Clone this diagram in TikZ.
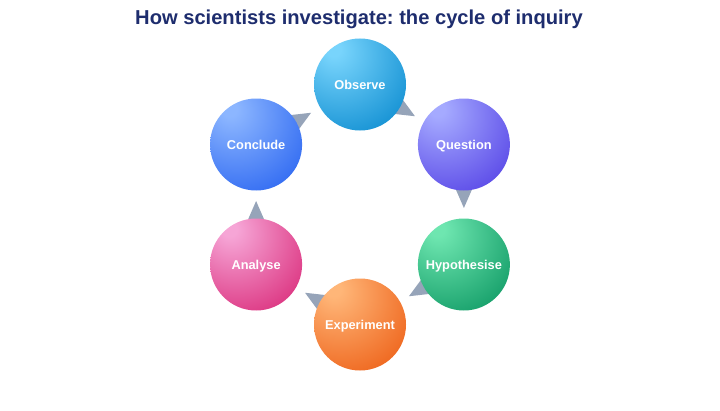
\documentclass[tikz,border=0pt]{standalone}
\usepackage{fontspec}
\setmainfont{Liberation Sans}
\usetikzlibrary{calc,backgrounds}
\frenchspacing
\definecolor{titlec}{RGB}{30,45,110}
\definecolor{wedgec}{RGB}{150,164,185}
\definecolor{obsL}{RGB}{120,212,252}\definecolor{obsD}{RGB}{5,135,205}
\definecolor{queL}{RGB}{165,170,255}\definecolor{queD}{RGB}{80,60,228}
\definecolor{hypL}{RGB}{110,230,176}\definecolor{hypD}{RGB}{8,148,95}
\definecolor{expL}{RGB}{255,182,120}\definecolor{expD}{RGB}{236,90,16}
\definecolor{anaL}{RGB}{246,165,214}\definecolor{anaD}{RGB}{216,36,116}
\definecolor{conL}{RGB}{140,182,255}\definecolor{conD}{RGB}{36,96,240}
\pgfdeclareradialshading{obsball}{\pgfpoint{-15bp}{20bp}}{color(0bp)=(obsL); color(4bp)=(obsL); color(48bp)=(obsD); color(100bp)=(obsD)}
\pgfdeclareradialshading{queball}{\pgfpoint{-15bp}{20bp}}{color(0bp)=(queL); color(4bp)=(queL); color(48bp)=(queD); color(100bp)=(queD)}
\pgfdeclareradialshading{hypball}{\pgfpoint{-15bp}{20bp}}{color(0bp)=(hypL); color(4bp)=(hypL); color(48bp)=(hypD); color(100bp)=(hypD)}
\pgfdeclareradialshading{expball}{\pgfpoint{-15bp}{20bp}}{color(0bp)=(expL); color(4bp)=(expL); color(48bp)=(expD); color(100bp)=(expD)}
\pgfdeclareradialshading{anaball}{\pgfpoint{-15bp}{20bp}}{color(0bp)=(anaL); color(4bp)=(anaL); color(48bp)=(anaD); color(100bp)=(anaD)}
\pgfdeclareradialshading{conball}{\pgfpoint{-15bp}{20bp}}{color(0bp)=(conL); color(4bp)=(conL); color(48bp)=(conD); color(100bp)=(conD)}
\tikzset{
  ballnode/.style={circle, minimum size=69pt, inner sep=0pt, text=white,
    text height=6.9pt, text depth=0pt,
    font=\bfseries\fontsize{9.6}{11}\selectfont},
  wedgefill/.style={fill=wedgec},
  titlestyle/.style={font=\bfseries\fontsize{15.1}{18}\selectfont, text=titlec}
}
\begin{document}
\begin{tikzpicture}[x=0.75pt,y=-0.75pt]
\useasboundingbox (0,0) rectangle (720,410);
\node[titlestyle] (title) at (359,19) {How scientists investigate: the cycle of inquiry};
\node[ballnode, shading=obsball] (obs) at (360,84.5) {Observe};
\node[ballnode, shading=queball] (que) at (463.9,144.5) {Question};
\node[ballnode, shading=hypball] (hyp) at (463.9,264.5) {Hypothesise};
\node[ballnode, shading=expball] (exp) at (360,324.5) {Experiment};
\node[ballnode, shading=anaball] (ana) at (256.1,264.5) {Analyse};
\node[ballnode, shading=conball] (con) at (256.1,144.5) {Conclude};
\begin{scope}[on background layer]
\fill[white] (0,0) rectangle (720,410);
\foreach \a/\b in {obs/que, que/hyp, hyp/exp, exp/ana, ana/con, con/obs}{
  \coordinate (m) at ($(\a)!0.3!(\b)$);
  \fill[wedgefill] ($(\a)!0.529!(\b)$) -- ($(m)!9pt!90:(\b)$) -- ($(m)!9pt!-90:(\b)$) -- cycle;
}
\end{scope}
\end{tikzpicture}
\end{document}
